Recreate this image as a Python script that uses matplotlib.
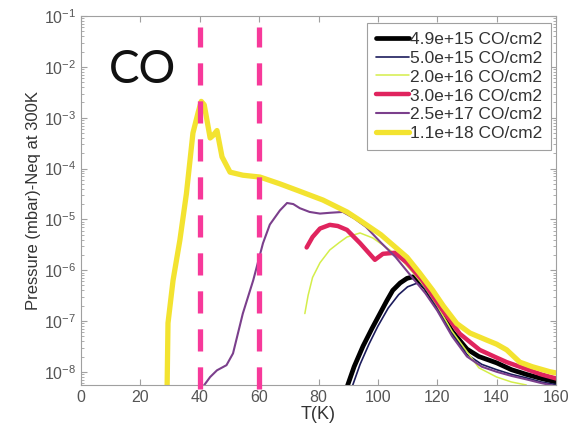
import numpy as np
import matplotlib
matplotlib.use("Agg")
import matplotlib.pyplot as plt

plt.rcParams['font.family'] = ['Liberation Sans', 'DejaVu Sans']
plt.rcParams['mathtext.fontset'] = 'custom'
plt.rcParams['mathtext.rm'] = 'Liberation Sans'
plt.rcParams['mathtext.it'] = 'Liberation Sans'

# T (K) and pressure (mbar), one pair per coverage
t_118 = [29.0, 29.3, 31.0, 33.3, 35.5, 37.7, 39.5, 40.5, 41.5, 43.5, 44.5, 45.8,
         47.5, 50.2, 54.5, 60.3, 67, 73, 81.5, 89.6, 94, 101, 109.8, 114,
         118.5, 122, 126.6, 131, 136.7, 140, 143.4, 147.8, 152, 158, 160]
p_118 = [5e-9, 9.1e-8, 6.3e-7, 3.9e-6, 3.2e-5, 5.0e-4, 1.3e-3, 2.1e-3, 1.8e-3,
         4.0e-4, 4.5e-4, 5.6e-4, 1.7e-4, 8.5e-5, 7.4e-5, 6.8e-5, 5.0e-5, 3.7e-5,
         2.4e-5, 1.4e-5, 9.5e-6, 5.0e-6, 1.8e-6, 8.9e-7, 4.0e-7, 2.0e-7, 8.9e-8,
         5.8e-8, 4.2e-8, 3.5e-8, 2.7e-8, 1.55e-8, 1.26e-8, 1.0e-8, 9.5e-9]

t_317 = [41, 43.5, 45.8, 49, 51.2, 54.5, 58, 61.3, 63.6, 67, 69.4, 71.5, 73.7,
         77, 80.5, 84, 88.2, 92, 96, 101, 106, 111, 116, 120, 125, 130, 135,
         140, 145, 150, 155, 160]
p_317 = [5e-9, 7.9e-9, 1.07e-8, 1.35e-8, 2.3e-8, 1.4e-7, 6.3e-7, 3.4e-6, 7.9e-6,
         1.5e-5, 2.1e-5, 2.0e-5, 1.66e-5, 1.4e-5, 1.3e-5, 1.35e-5, 1.4e-5,
         1.05e-5, 7.1e-6, 3.5e-6, 1.8e-6, 7.9e-7, 3.5e-7, 1.6e-7, 5e-8, 2.0e-8,
         1.26e-8, 1.0e-8, 8.3e-9, 7.1e-9, 6.0e-9, 5.2e-9]

t_316 = [76, 78, 80.5, 83.8, 86.5, 89.6, 94, 99, 101.7, 105.7, 109.8, 115, 121,
         127.6, 134.3, 140, 143.4, 148.8, 155, 160]
p_316 = [2.8e-6, 4.5e-6, 6.6e-6, 7.8e-6, 7.4e-6, 6.2e-6, 3.4e-6, 1.6e-6, 2.1e-6,
         2.2e-6, 1.4e-6, 6.3e-7, 1.9e-7, 5.6e-8, 2.7e-8, 1.9e-8, 1.55e-8,
         1.2e-8, 8.9e-9, 7.4e-9]

t_216 = [75.4, 76.5, 78, 80.5, 83.8, 87, 89.6, 94, 98.3, 104, 108, 112, 116,
         120, 125, 130, 134, 140, 145, 150]
p_216 = [1.4e-7, 3.2e-7, 7.2e-7, 1.4e-6, 2.5e-6, 3.5e-6, 4.5e-6, 5.4e-6, 4.3e-6,
         2.5e-6, 1.6e-6, 8.7e-7, 4.5e-7, 2.0e-7, 6.3e-8, 2.5e-8, 1.2e-8,
         7.9e-9, 6.3e-9, 5.5e-9]

t_515 = [91.3, 94, 97, 100, 103.5, 107, 110, 113, 115, 117, 120, 125, 130, 135,
         140, 145, 150, 155, 160]
p_515 = [5e-9, 1.4e-8, 3.5e-8, 7.9e-8, 1.8e-7, 3.3e-7, 4.7e-7, 5.5e-7, 5.0e-7,
         3.5e-7, 1.8e-7, 5.6e-8, 2.2e-8, 1.4e-8, 1.1e-8, 8.9e-9, 7.6e-9, 6.3e-9,
         5.6e-9]

t_4915 = [89.6, 92, 95, 98, 100.7, 103, 105, 107.5, 109.8, 111.8, 113.5, 116,
          120, 125, 130, 134, 140, 145, 150, 155, 160]
p_4915 = [5e-9, 1.26e-8, 3.2e-8, 7.1e-8, 1.4e-7, 2.5e-7, 4.0e-7, 5.6e-7, 6.9e-7,
          7.4e-7, 6.3e-7, 4.5e-7, 1.9e-7, 6.3e-8, 2.8e-8, 2.0e-8, 1.5e-8,
          1.1e-8, 8.9e-9, 7.4e-9, 6.3e-9]

labels = ['4.9e+15 CO/cm2', '5.0e+15 CO/cm2', '2.0e+16 CO/cm2',
          '3.0e+16 CO/cm2', '2.5e+17 CO/cm2', '1.1e+18 CO/cm2']
marked_T = [40, 60]
y_major = [1e-8, 1e-7, 1e-6, 1e-5, 1e-4, 1e-3, 1e-2, 1e-1]

fig = plt.figure(figsize=(5.71, 4.36), dpi=100)
ax = fig.add_axes([0.1419, 0.117, 0.8318, 0.846])

series = [
    (t_4915, p_4915, '#000000', 3.4),
    (t_515, p_515, '#1c1c5c', 1.2),
    (t_216, p_216, '#d4ee4a', 1.1),
    (t_316, p_316, '#e0245e', 3.2),
    (t_317, p_317, '#7b3f8c', 1.5),
    (t_118, p_118, '#f3e330', 3.8),
]
for (t, p, c, lw), lab in zip(series, labels):
    ax.plot(t, p, color=c, lw=lw, label=lab, solid_capstyle='round')

for t in marked_T:
    ax.axvline(t, ymin=-0.011, ymax=0.97, color='#f7399a', lw=3.8,
               dashes=(4.2, 3.0), clip_on=False, zorder=5)

ax.set_yscale('log')
ax.set_xlim(0, 160)
ax.set_ylim(5.5e-9, 0.1)
ax.set_xticks(range(0, 161, 20))
ax.set_yticks(y_major)

for s in ax.spines.values():
    s.set_color('#a0a0a0')
    s.set_linewidth(0.8)
ax.tick_params(which='both', direction='in', top=True, right=True,
               colors='#a0a0a0', labelcolor='#555555', labelsize=11.5)
ax.tick_params(which='major', length=4)
ax.tick_params(which='minor', length=2)

ax.set_xlabel('T(K)', fontsize=13, color='#333333', labelpad=1)
ax.set_ylabel('Pressure (mbar)-Neq at 300K', fontsize=12, color='#333333',
              labelpad=2)

ax.text(0.13, 0.854, 'CO', transform=ax.transAxes, fontsize=33,
        family='Lato', ha='center', va='center', color='#111111')

leg = ax.legend(loc='upper right', bbox_to_anchor=(0.99, 0.982), borderaxespad=0,
                fontsize=12.5, handlelength=1.9, handletextpad=0.1,
                labelspacing=0.22, borderpad=0.5, fancybox=False, framealpha=1)
leg.get_frame().set_edgecolor('#a0a0a0')
leg.get_frame().set_linewidth(0.8)
for txt in leg.get_texts():
    txt.set_color('#333333')

fig.savefig('out.png', dpi=100)
